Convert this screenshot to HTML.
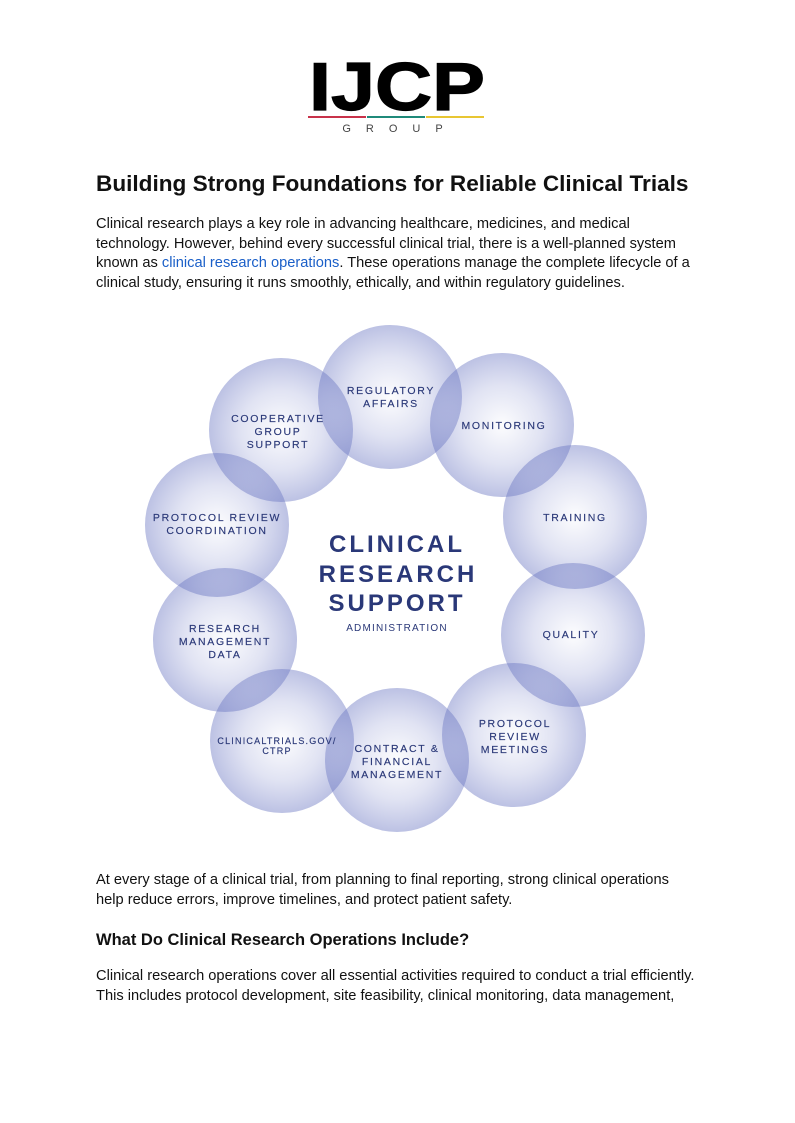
<!DOCTYPE html>
<html><head><meta charset="utf-8"><style>
body{margin:0;background:#fff;width:795px;height:1123px;position:relative;overflow:hidden;font-family:"Liberation Sans",Arial,sans-serif;color:#111;}
.t{position:absolute;left:96px;white-space:nowrap;font-size:14.65px;line-height:19.6px;}
h1{position:absolute;left:96px;top:171px;margin:0;font-size:22.6px;font-weight:bold;white-space:nowrap;}
h2{position:absolute;left:96px;top:931px;margin:0;font-size:16.5px;font-weight:bold;white-space:nowrap;}
a{color:#1a5fc8;text-decoration:none}
</style></head><body>
<svg style="position:absolute;left:0;top:0" width="795" height="140">
<text x="397" y="110" text-anchor="middle" font-family="Liberation Sans, sans-serif" font-weight="bold" font-size="68" fill="#000" stroke="#000" stroke-width="1.2" textLength="176" lengthAdjust="spacingAndGlyphs">IJCP</text>
<rect x="308" y="116" width="58" height="2" fill="#c8324a"/>
<rect x="367" y="116" width="58" height="2" fill="#1f8a7a"/>
<rect x="426" y="116" width="58" height="2" fill="#e8c632"/>
<text x="400" y="132" text-anchor="middle" font-family="Liberation Sans, sans-serif" font-size="11" letter-spacing="15" fill="#444">GROUP</text>
</svg>
<h1>Building Strong Foundations for Reliable Clinical Trials</h1>
<div class="t" style="top:215px">Clinical research plays a key role in advancing healthcare, medicines, and medical<br>technology. However, behind every successful clinical trial, there is a well-planned system<br>known as <a>clinical research operations</a>. These operations manage the complete lifecycle of a<br>clinical study, ensuring it runs smoothly, ethically, and within regulatory guidelines.</div>
<svg style="position:absolute;left:0;top:0" width="795" height="1123" font-family="Liberation Sans, DejaVu Sans, sans-serif">
<defs><radialGradient id="g"><stop offset="0" stop-color="#7580c8" stop-opacity="0.02"/><stop offset="0.55" stop-color="#7580c8" stop-opacity="0.22"/><stop offset="1" stop-color="#6a76c2" stop-opacity="0.45"/></radialGradient></defs>
<g fill="url(#g)">
<circle cx="390" cy="397" r="72"/><circle cx="502" cy="425" r="72"/><circle cx="575" cy="517" r="72"/><circle cx="573" cy="635" r="72"/><circle cx="514" cy="735" r="72"/><circle cx="397" cy="760" r="72"/><circle cx="282" cy="741" r="72"/><circle cx="225" cy="640" r="72"/><circle cx="217" cy="525" r="72"/><circle cx="281" cy="430" r="72"/>
</g>
<g fill="#2a3878" font-size="10.5" letter-spacing="1.7" text-anchor="middle" stroke="#2a3878" stroke-width="0.15">
<text x="391" y="394">REGULATORY</text><text x="391" y="407">AFFAIRS</text>
<text x="504" y="429">MONITORING</text>
<text x="575" y="521">TRAINING</text>
<text x="571" y="638">QUALITY</text>
<text x="515" y="727">PROTOCOL</text><text x="515" y="740">REVIEW</text><text x="515" y="753">MEETINGS</text>
<text x="397" y="752">CONTRACT &amp;</text><text x="397" y="765">FINANCIAL</text><text x="397" y="778">MANAGEMENT</text>
<text x="277" y="744" font-size="9" letter-spacing="1.2">CLINICALTRIALS.GOV/</text><text x="277" y="754" font-size="9" letter-spacing="1.2">CTRP</text>
<text x="225" y="632">RESEARCH</text><text x="225" y="645">MANAGEMENT</text><text x="225" y="658">DATA</text>
<text x="217" y="521">PROTOCOL REVIEW</text><text x="217" y="534">COORDINATION</text>
<text x="278" y="422">COOPERATIVE</text><text x="278" y="435">GROUP</text><text x="278" y="448">SUPPORT</text>
</g>
<g fill="#2a3878" font-weight="bold" font-size="24" letter-spacing="3" text-anchor="middle">
<text x="397" y="552">CLINICAL</text><text x="398" y="582">RESEARCH</text><text x="397" y="611">SUPPORT</text>
</g>
<text x="397" y="631" fill="#2a3878" font-size="10" letter-spacing="1.2" text-anchor="middle">ADMINISTRATION</text>
</svg>
<div class="t" style="top:871px">At every stage of a clinical trial, from planning to final reporting, strong clinical operations<br>help reduce errors, improve timelines, and protect patient safety.</div>
<h2>What Do Clinical Research Operations Include?</h2>
<div class="t" style="top:967px">Clinical research operations cover all essential activities required to conduct a trial efficiently.<br>This includes protocol development, site feasibility, clinical monitoring, data management,</div>
</body></html>
